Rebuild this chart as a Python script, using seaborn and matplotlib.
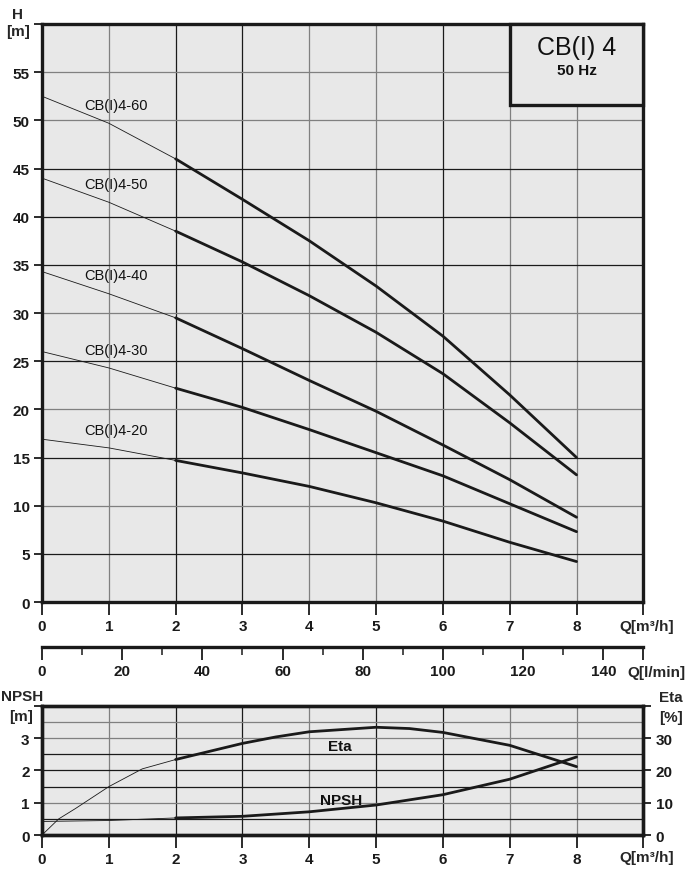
import numpy as np
import pandas as pd
import matplotlib.pyplot as plt
import seaborn as sns
from matplotlib.patches import Rectangle

# Pump curves, head H [m] against flow Q [m3/h]
q = [0, 1, 2, 3, 4, 5, 6, 7, 8]
h_60 = [52.5, 49.7, 46.0, 41.8, 37.5, 32.8, 27.6, 21.5, 15.0]
h_50 = [44.0, 41.5, 38.5, 35.3, 31.8, 28.0, 23.7, 18.6, 13.2]
h_40 = [34.3, 32.0, 29.5, 26.3, 23.0, 19.8, 16.3, 12.7, 8.8]
h_30 = [26.0, 24.3, 22.2, 20.2, 17.9, 15.5, 13.1, 10.2, 7.3]
h_20 = [16.9, 16.0, 14.7, 13.4, 12.0, 10.3, 8.4, 6.2, 4.2]
pump_names = ['CB(I)4-60', 'CB(I)4-50', 'CB(I)4-40', 'CB(I)4-30', 'CB(I)4-20']

# Efficiency [%] and NPSH [m]
eta_q = [0, 0.25, 0.5, 1, 1.5, 2, 3, 3.5, 4, 5, 5.5, 6, 7, 8]
eta = [0, 5.0, 8.2, 15.0, 20.5, 23.4, 28.4, 30.4, 32.0, 33.4, 33.0, 31.8, 27.8, 21.2]
npsh_q = [0, 1, 2, 3, 4, 5, 6, 7, 8]
npsh = [0.42, 0.45, 0.53, 0.58, 0.72, 0.93, 1.25, 1.73, 2.42]

q_ticks = list(range(10))
q_labels = ['0', '1', '2', '3', '4', '5', '6', '7', '8', '']
h_ticks = list(range(0, 61, 5))
h_labels = [str(v) for v in range(0, 56, 5)] + ['']
lmin_major = [0, 20, 40, 60, 80, 100, 120, 140, 150]
lmin_labels = ['0', '20', '40', '60', '80', '100', '120', '140', '']
lmin_minor = [10, 30, 50, 70, 90, 110, 130]

sns.set_theme(style='ticks')
plt.rcParams['font.family'] = ['Liberation Sans', 'DejaVu Sans']

BG = '#e8e8e8'
DARK = '#1a1a1a'
GREY = '#808080'
INK = '#1a1a1a'
tick_font = dict(fontsize=11, fontweight='bold')

fig = plt.figure(figsize=(6.92, 8.78), dpi=100)

# ---------------- main head chart ----------------
ax = fig.add_axes([0.0607, 0.3132, 0.869, 0.6583])
ax.set_facecolor(BG)
for x in range(1, 9):
    ax.axvline(x, color=DARK if x in (2, 3, 6) else GREY, lw=0.9, zorder=0)
for y in range(5, 60, 5):
    ax.axhline(y, color=DARK if y in (5, 15, 25, 35, 40, 45) else GREY, lw=0.9, zorder=0)

curves = [h_60, h_50, h_40, h_30, h_20]
for name, h in zip(pump_names, curves):
    sns.lineplot(x=q[:3], y=h[:3], ax=ax, color=INK, lw=0.6, estimator=None)
    sns.lineplot(x=q[2:], y=h[2:], ax=ax, color=INK, lw=2.0, estimator=None)
    ax.text(1.1, h[1] + 1.9, name, ha='center', va='center', fontsize=10.5, color='#111111')

ax.set_xlim(0, 9)
ax.set_ylim(0, 60)
ax.set_xticks(q_ticks)
ax.set_xticklabels(q_labels, **tick_font)
ax.set_yticks(h_ticks)
ax.set_yticklabels(h_labels, **tick_font)
ax.tick_params(axis='x', direction='out', length=9, width=1.3, pad=3, colors=INK)
ax.tick_params(axis='y', direction='out', length=6, width=1.3, pad=3, colors=INK)
for s in ax.spines.values():
    s.set_linewidth(2.4)
    s.set_color(INK)
ax.set_xlabel('')
ax.set_ylabel('')

# title box
ax.add_patch(Rectangle((7.0, 51.6), 2.0, 8.4, facecolor=BG, edgecolor=INK, lw=2.4,
                       zorder=5, clip_on=False))
ax.text(8.0, 57.6, 'CB(I) 4', ha='center', va='center', fontsize=18, color='#111111', zorder=6)
ax.text(8.0, 55.2, '50 Hz', ha='center', va='center', fontsize=11, fontweight='bold',
        color='#111111', zorder=6)

fig.text(0.026, 0.983, 'H', ha='center', va='center', **tick_font)
fig.text(0.026, 0.9636, '[m]', ha='center', va='center', **tick_font)
fig.text(0.934, 0.2855, 'Q[m³/h]', ha='center', va='center', **tick_font)

# ---------------- secondary flow scale l/min ----------------
ax2 = fig.add_axes([0.0607, 0.2619, 0.869, 0.0001])
ax2.set_xlim(0, 150)
ax2.set_ylim(0, 1)
ax2.set_yticks([])
ax2.patch.set_visible(False)
for side in ('top', 'left', 'right'):
    ax2.spines[side].set_visible(False)
ax2.spines['bottom'].set_linewidth(2.4)
ax2.spines['bottom'].set_color(INK)
ax2.set_xticks(lmin_major)
ax2.set_xticklabels(lmin_labels, **tick_font)
ax2.set_xticks(lmin_minor, minor=True)
ax2.tick_params(axis='x', which='major', direction='out', length=9, width=1.3, pad=3, colors=INK)
ax2.tick_params(axis='x', which='minor', direction='out', length=6, width=1.1, colors=INK)
fig.text(0.948, 0.2335, 'Q[l/min]', ha='center', va='center', **tick_font)

# ---------------- NPSH / Eta chart ----------------
axb = fig.add_axes([0.0607, 0.0478, 0.869, 0.147])
axb.set_facecolor(BG)
for x in range(1, 9):
    axb.axvline(x, color=DARK if x in (2, 3, 5, 6) else GREY, lw=0.9, zorder=0)
for y in [0.5, 1.0, 1.5, 2.0, 2.5, 3.0, 3.5]:
    axb.axhline(y, color=DARK if y in (0.5, 1.5, 2.0, 2.5) else GREY, lw=0.9, zorder=0)

sns.lineplot(x=npsh_q[:3], y=npsh[:3], ax=axb, color=INK, lw=0.6, estimator=None)
sns.lineplot(x=npsh_q[2:], y=npsh[2:], ax=axb, color=INK, lw=2.0, estimator=None)
axb.text(4.47, 1.08, 'NPSH', ha='center', va='center', fontsize=11, fontweight='bold',
         color='#111111')
axb.text(4.45, 2.75, 'Eta', ha='center', va='center', fontsize=11, fontweight='bold',
         color='#111111')

axb.set_xlim(0, 9)
axb.set_ylim(0, 4)
axb.set_xticks(q_ticks)
axb.set_xticklabels(q_labels, **tick_font)
axb.set_yticks([0, 1, 2, 3, 4])
axb.set_yticklabels(['0', '1', '2', '3', ''], **tick_font)
axb.tick_params(axis='x', direction='out', length=9, width=1.3, pad=3, colors=INK)
axb.tick_params(axis='y', direction='out', length=6, width=1.3, pad=3, colors=INK)
for s in axb.spines.values():
    s.set_linewidth(2.4)
    s.set_color(INK)
axb.set_xlabel('')
axb.set_ylabel('')

axe = axb.twinx()
n_thin = eta_q.index(2) + 1
sns.lineplot(x=eta_q[:n_thin], y=eta[:n_thin], ax=axe, color=INK, lw=0.6, estimator=None)
sns.lineplot(x=eta_q[n_thin - 1:], y=eta[n_thin - 1:], ax=axe, color=INK, lw=2.0, estimator=None)
axe.set_ylim(0, 40)
axe.set_yticks([0, 10, 20, 30, 40])
axe.set_yticklabels(['0', '10', '20', '30', ''], **tick_font)
axe.tick_params(axis='y', direction='out', length=6, width=1.3, pad=3, colors=INK)
for s in axe.spines.values():
    s.set_linewidth(2.4)
    s.set_color(INK)
axe.set_ylabel('')

fig.text(0.032, 0.2062, 'NPSH', ha='center', va='center', **tick_font)
fig.text(0.031, 0.1834, '[m]', ha='center', va='center', **tick_font)
fig.text(0.970, 0.2050, 'Eta', ha='center', va='center', **tick_font)
fig.text(0.970, 0.1826, '[%]', ha='center', va='center', **tick_font)
fig.text(0.934, 0.0228, 'Q[m³/h]', ha='center', va='center', **tick_font)

fig.savefig('out.png', dpi=100, facecolor='white')
